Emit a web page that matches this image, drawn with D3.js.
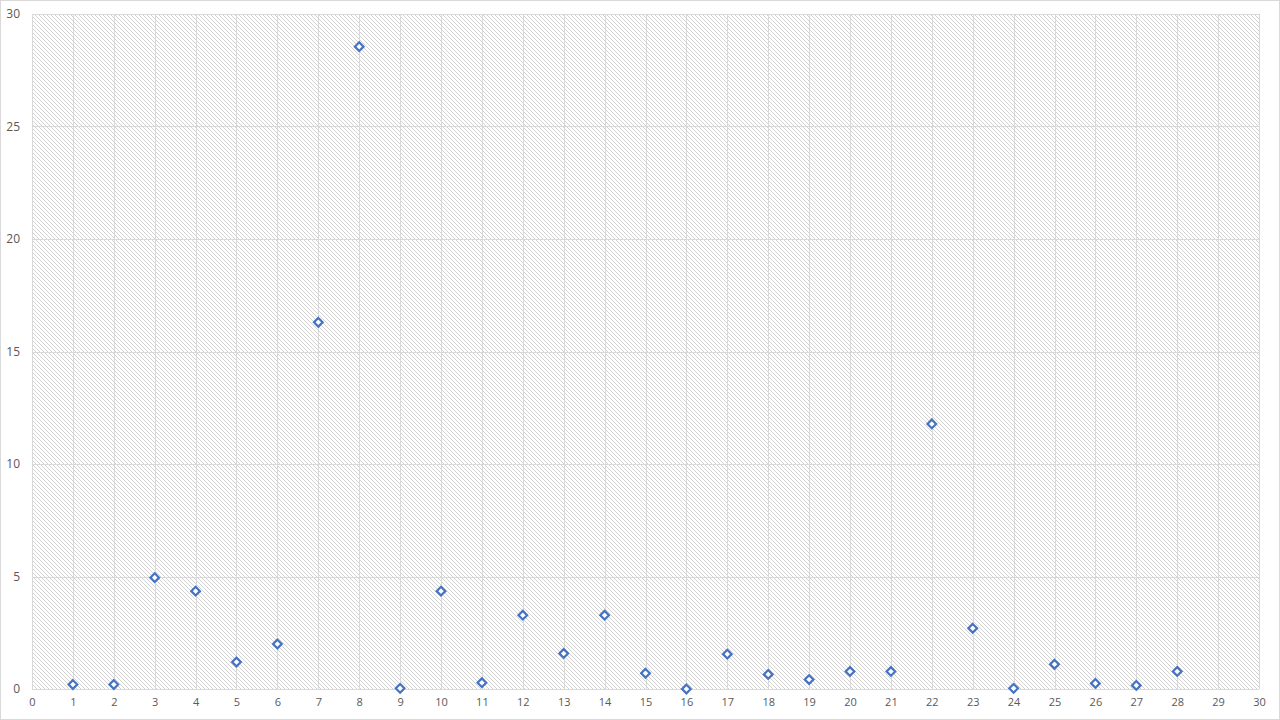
<!DOCTYPE html>
<html><head><meta charset="utf-8">
<script src="https://cdn.jsdelivr.net/npm/d3@7"></script>
<style>body{margin:0;background:#fff}svg{display:block}</style>
</head><body>
<svg id="c" width="1280" height="720"></svg>
<script>
const xValues = [1,2,3,4,5,6,7,8,9,10,11,12,13,14,15,16,17,18,19,20,21,22,23,24,25,26,27,28];
const yValues = [0.2,0.2,4.95,4.35,1.2,2.0,16.3,28.55,0.03,4.35,0.28,3.28,1.58,3.28,0.7,0.0,1.55,0.65,0.42,0.78,0.78,11.78,2.7,0.03,1.1,0.25,0.16,0.78];
const xTicks = d3.range(0,31,1);
const yTicks = [0,5,10,15,20,25,30];

const svg = d3.select("#c");
const W=1280,H=720;
const m={l:32,r:21,t:14,b:31};
const x=d3.scaleLinear().domain([0,30]).range([m.l,W-m.r]);
const y=d3.scaleLinear().domain([0,30]).range([H-m.b,m.t]);

svg.append("rect").attr("x",0.5).attr("y",0.5).attr("width",W-1).attr("height",H-1)
  .attr("fill","#fff").attr("stroke","#d9d9d9");

const defs=svg.append("defs");
const pat=defs.append("pattern").attr("id","hatch").attr("patternUnits","userSpaceOnUse")
  .attr("width",4).attr("height",4);
pat.append("rect").attr("width",4).attr("height",4).attr("fill","#fff");
[0,1,2,3].forEach(i=>{
  pat.append("rect").attr("x",i).attr("y",i).attr("width",1).attr("height",1).attr("fill","#d2d2d2");
});

svg.append("rect").attr("x",x(0)).attr("y",y(30)).attr("width",x(30)-x(0)).attr("height",y(0)-y(30))
  .attr("fill","url(#hatch)");

// gridlines
svg.append("g").selectAll("line").data(xTicks).join("line")
  .attr("x1",d=>Math.round(x(d))+0.5).attr("x2",d=>Math.round(x(d))+0.5)
  .attr("y1",y(30)).attr("y2",y(0)).attr("stroke","#d9d9d9");
svg.append("g").selectAll("line").data(yTicks).join("line")
  .attr("y1",d=>Math.round(y(d))+0.5).attr("y2",d=>Math.round(y(d))+0.5)
  .attr("x1",x(0)).attr("x2",x(30)).attr("stroke","#d9d9d9");

// axes labels
const xa=d3.axisBottom(x).tickValues(xTicks).tickSize(0).tickPadding(9);
const gx=svg.append("g").attr("transform",`translate(0,${y(0)})`).call(xa);
gx.select(".domain").remove();
gx.selectAll("text").attr("fill","#595959").style("font-family","'Open Sans',Arial,sans-serif").style("font-size","11px");
const ya=d3.axisLeft(y).tickValues(yTicks).tickSize(0).tickPadding(12);
const gy=svg.append("g").attr("transform",`translate(${x(0)},0)`).call(ya);
gy.select(".domain").remove();
gy.selectAll("text").attr("fill","#595959").style("font-family","'Open Sans',Arial,sans-serif").style("font-size","12px");

// points
const sym=d3.symbol().type(d3.symbolDiamond2).size(48);
svg.append("g").selectAll("path").data(xValues.map((d,i)=>[d,yValues[i]])).join("path")
  .attr("d",sym).attr("transform",d=>`translate(${x(d[0])},${y(d[1])})`)
  .attr("fill","#fff").attr("stroke","#4472C4").attr("stroke-width",2.2);
</script>
</body></html>
